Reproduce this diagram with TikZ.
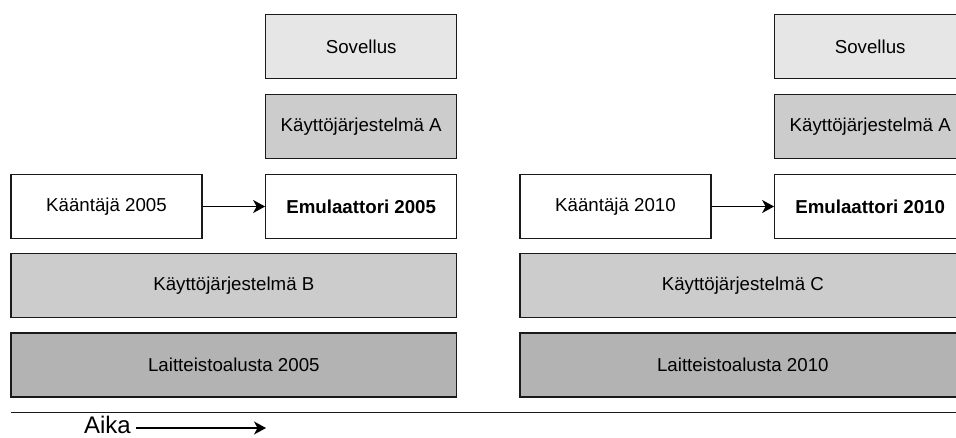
\documentclass[tikz,border=0pt]{standalone}
\usepackage{fontspec}
\setmainfont{Liberation Sans}
\usetikzlibrary{arrows.meta}
\definecolor{appfill}{HTML}{E6E6E6}
\definecolor{osfill}{HTML}{CCCCCC}
\definecolor{hwfill}{HTML}{B3B3B3}
\definecolor{edge}{HTML}{1A1A1A}
\begin{document}
\begin{tikzpicture}[x=1pt,y=-1pt,
  layer/.style={draw=edge, line width=1.2pt, rectangle, inner sep=0pt,
    minimum height=64pt, font=\fontsize{18.7}{22}\selectfont},
  narrow/.style={layer, minimum width=191pt},
  wide/.style={layer, minimum width=445.7pt},
  link/.style={draw=black, line width=1.2pt, -{Stealth[length=12pt,width=13pt,inset=3.5pt]}}]
  \clip (0,0) rectangle (956,437);
  \foreach \g/\dx/\yr/\os in {1/0/2005/B, 2/509/2010/C}{
    % upper stack: application on guest OS
    \node[narrow, fill=appfill] (sov\g) at (361.2+\dx,46.7) {Sovellus};
    \node[narrow, fill=osfill] (osa\g) at (361.2+\dx,126.2) {Käyttöjärjestelmä A};
    % compiler producing the emulator
    \node[narrow, fill=white] (kaa\g) at (106.5+\dx,206.5) {Kääntäjä \yr};
    \node[narrow, fill=white] (emu\g) at (361.2+\dx,206.5) {\textbf{Emulaattori \yr}};
    \draw[link] (kaa\g) -- (emu\g);
    % host OS and hardware
    \node[wide, fill=osfill] (host\g) at (233.85+\dx,285.6) {Käyttöjärjestelmä \os};
    \node[wide, fill=hwfill] (hw\g) at (233.85+\dx,365) {Laitteistoalusta \yr};
  }
  % time axis
  \coordinate (axisL) at (11,412.7);
  \coordinate (axisR) at (960,412.7);
  \draw[edge, line width=1.3pt] (axisL) -- (axisR);
  \node[font=\fontsize{24}{28}\selectfont, inner sep=5pt, anchor=east] (aika) at (136,425) {Aika};
  \coordinate (aikaEnd) at (266,428);
  \draw[link, line width=1.1pt] (aika.east |- aikaEnd) -- (aikaEnd);
\end{tikzpicture}
\end{document}
